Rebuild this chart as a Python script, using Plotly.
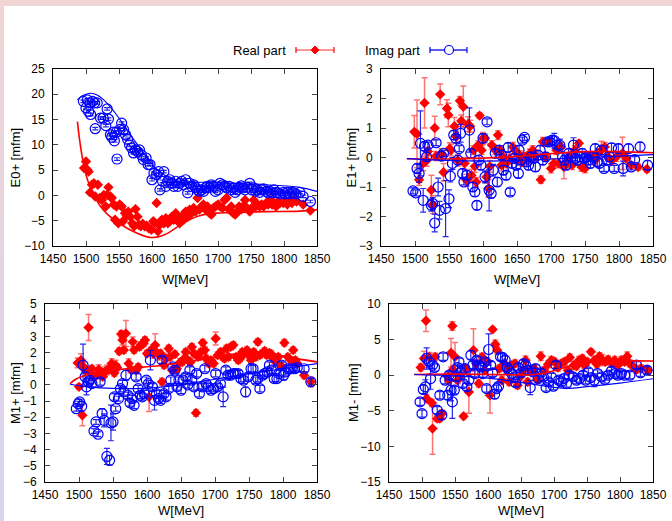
import plotly.graph_objects as go

W_PX, H_PX = 672, 521

# ---------------- E0+ ----------------
e0_re_w = [1497, 1500, 1502, 1504, 1506, 1509, 1512, 1514, 1518, 1521, 1524, 1527, 1530, 1532, 1534, 1537,
           1539, 1542, 1544, 1546, 1549, 1551, 1554, 1556, 1559, 1562, 1564, 1567, 1570, 1573, 1575, 1578,
           1580, 1583, 1586, 1589, 1592, 1595, 1599, 1602, 1605, 1607, 1609, 1612, 1615, 1618, 1621, 1624,
           1627, 1630, 1633, 1636, 1639, 1642, 1645, 1648, 1651, 1654, 1657, 1660, 1663, 1666, 1669, 1672,
           1675, 1678, 1681, 1684, 1687, 1690, 1693, 1696, 1700, 1703, 1707, 1710, 1713, 1717, 1720, 1723,
           1726, 1729, 1732, 1735, 1738, 1741, 1744, 1748, 1751, 1754, 1757, 1760, 1763, 1766, 1769, 1773,
           1776, 1779, 1782, 1785, 1788, 1791, 1794, 1799, 1802, 1805, 1809, 1812, 1815, 1819, 1829, 1840]
e0_re = [5.4, 6.7, 5.1, 4.7, 0.6, 2.1, 2.4, -0.2, 2.1, -0.5, -0.9, 0.1, -2.2, 0.1, 1.6, -0.2,
         -0.5, -1.8, -4.8, -2.2, -5.5, -1.8, -2.2, -5.1, -3.5, -4.0, -3.2, -4.2, -5.5, -6.1, -2.7, -4.2,
         -5.8, -6.1, -5.6, -6.1, -6.0, -6.5, -6.8, -5.1, -5.5, -1.5, -7.1, -5.8, -4.8, -5.5, -4.5, -5.5,
         -5.1, -4.2, -4.8, -3.5, -4.2, -5.5, -4.2, -4.8, -3.2, -4.2, -2.8, -3.5, -2.5, -3.2, -0.5, -2.8,
         -2.2, -1.8, -2.8, -2.2, -3.5, -3.8, -2.5, -2.2, -1.8, -2.2, -2.5, -0.9, -0.5, -2.8, -2.2, -3.5,
         -3.8, -3.2, -2.2, -2.8, -2.2, -0.9, -2.5, -3.2, -2.5, -0.9, -2.2, -1.8, -2.2, -1.8, -2.2, -1.5,
         -1.8, -0.9, -1.8, -1.5, -2.2, -1.2, -1.5, -1.5, -1.2, -1.8, -1.2, -1.5, -0.9, -1.2, -1.8, -3.0]
e0_im_w = [1496, 1502, 1500, 1506, 1504, 1507, 1510, 1513, 1517, 1514, 1522, 1526, 1530, 1532, 1534, 1537,
           1539, 1542, 1543, 1546, 1547, 1551, 1554, 1557, 1560, 1563, 1566, 1569, 1572, 1575, 1578, 1581,
           1584, 1587, 1591, 1594, 1597, 1600, 1603, 1607, 1610, 1612, 1616, 1618, 1621, 1624, 1627, 1630,
           1633, 1636, 1639, 1642, 1645, 1648, 1651, 1654, 1657, 1660, 1663, 1666, 1669, 1672, 1675, 1678,
           1681, 1684, 1687, 1690, 1693, 1696, 1700, 1703, 1707, 1710, 1713, 1717, 1720, 1723, 1726, 1729,
           1732, 1735, 1738, 1741, 1744, 1748, 1751, 1754, 1757, 1760, 1763, 1766, 1769, 1773, 1776, 1779,
           1782, 1785, 1788, 1791, 1794, 1799, 1802, 1805, 1809, 1812, 1815, 1818, 1824, 1829, 1840]
e0_im = [18.6, 18.9, 17.3, 18.3, 16.6, 16.0, 18.6, 18.3, 18.3, 13.2, 15.3, 15.3, 13.8, 17.1, 15.1, 12.0,
         11.5, 12.5, 10.8, 12.5, 7.2, 13.0, 14.3, 13.0, 12.0, 11.1, 10.0, 9.4, 8.4, 9.0, 8.7, 9.0,
         8.0, 7.1, 7.4, 6.1, 6.1, 3.1, 4.4, 4.1, 4.7, 1.1, 2.8, 4.7, 1.8, 2.8, 3.1, 2.4,
         1.8, 2.8, 1.8, 2.4, 2.8, 2.1, 3.1, 0.5, 2.4, 1.8, 2.1, 1.6, 1.1, 0.8, 1.1, 0.8,
         1.5, 1.8, 1.6, 2.1, 1.8, 0.8, 1.1, 2.4, 2.1, 1.8, 1.5, 1.8, 1.1, 1.5, 0.6, 1.1,
         1.6, 1.9, 1.5, 1.1, 1.6, 2.4, 1.1, 1.5, 0.8, 1.1, 0.6, 1.1, 1.3, 0.8, 0.5, 0.8,
         0.5, 1.1, 0.6, 0.5, 0.3, 0.6, 0.3, 0.6, 0.3, 0.6, 0.5, 0.3, 0.6, -0.2, -1.2]
e0_fit_re_w = [1487, 1490, 1495, 1500, 1505, 1513, 1521, 1533, 1546, 1571, 1596, 1609, 1622, 1634, 1647,
               1660, 1672, 1697, 1723, 1773, 1824, 1850]
e0_fit_re = [14.6, 11.3, 7.1, 4.1, 2.1, -0.2, -2.0, -3.8, -5.1, -7.1, -8.3, -8.2, -7.6, -6.6, -5.5,
             -4.6, -4.0, -3.5, -3.4, -3.2, -3.1, -2.8]
e0_fit_im_w = [1487, 1493, 1500, 1508, 1516, 1526, 1536, 1546, 1559, 1571, 1584, 1597, 1609, 1622, 1632,
               1642, 1660, 1697, 1723, 1773, 1824, 1850]
e0_fit_im = [18.9, 19.6, 20.0, 20.2, 19.9, 19.0, 17.6, 16.0, 13.6, 11.3, 9.0, 6.7, 4.9, 3.8, 3.1,
             2.7, 2.6, 2.6, 2.4, 2.1, 1.6, 0.8]

# ---------------- E1+ ----------------
e1_re_w = [1499, 1503, 1506, 1514, 1512, 1517, 1519, 1524, 1526, 1529, 1531, 1537, 1539, 1542, 1547, 1549,
           1551, 1553, 1558, 1561, 1563, 1566, 1568, 1571, 1573, 1576, 1578, 1581, 1583, 1586, 1588, 1590,
           1593, 1595, 1598, 1600, 1603, 1605, 1608, 1610, 1613, 1618, 1622, 1625, 1627, 1630, 1634, 1639,
           1644, 1647, 1651, 1654, 1658, 1662, 1666, 1669, 1673, 1677, 1685, 1688, 1692, 1696, 1700, 1704,
           1708, 1711, 1715, 1719, 1722, 1727, 1731, 1735, 1741, 1745, 1750, 1754, 1759, 1764, 1769, 1774,
           1779, 1784, 1789, 1796, 1805, 1811, 1818, 1828, 1841]
e1_re = [0.87, 0.80, -0.75, 1.85, -0.20, -0.10, 0.20, -1.10, -1.60, 1.00, 0.05, 2.14, 0.10, -0.50, 1.66, 1.44,
         0.30, 0.25, 1.06, 0.70, -0.10, 1.92, 1.24, 1.72, -0.20, -0.77, 1.13, 1.06, -0.60, 0.25, -0.30, -0.83,
         0.42, 1.42, 0.25, 0.65, 0.65, -0.66, -1.05, -0.30, 0.42, 0.25, 0.76, 0.25, -0.26, 0.00, -0.20, -0.03,
         0.36, 0.25, -0.10, 0.08, -0.15, 0.02, -0.10, 0.14, 0.25, 0.05, -0.75, 0.53, 0.02, 0.53, -0.37, -0.20,
         0.25, -0.20, 0.36, -0.32, -0.20, 0.02, -0.26, 0.25, 0.48, -0.32, -0.37, 0.02, 0.02, -0.10, 0.14, 0.25,
         0.36, 0.02, -0.10, 0.02, 0.14, -0.03, -0.26, -0.32, -0.40]
e1_re_err = [0.55, 1.15, 0.20, 0.85, 0.25, 0.20, 0.15, 0.50, 0.30, 0.40, 0.15, 0.35, 0.20, 0.30, 0.30, 0.40,
             0.20, 0.20, 0.30, 0.20, 0.20, 0.15, 0.20, 0.70, 0.20, 0.20, 0.25, 0.20, 0.20, 0.15, 0.20, 0.15,
             0.15, 0.10, 0.15, 0.20, 0.15, 0.20, 0.30, 0.20, 0.15, 0.15, 0.15, 0.15, 0.20, 0.15, 0.15, 0.15,
             0.15, 0.15, 0.15, 0.15, 0.15, 0.15, 0.15, 0.15, 0.15, 0.15, 0.12, 0.15, 0.15, 0.10, 0.15, 0.15,
             0.15, 0.15, 0.15, 0.40, 0.15, 0.15, 0.15, 0.15, 0.10, 0.15, 0.15, 0.15, 0.15, 0.15, 0.15, 0.30,
             0.15, 0.15, 0.15, 0.15, 0.55, 0.15, 0.10, 0.10, 0.10]
e1_im_w = [1497, 1501, 1503, 1506, 1508, 1512, 1514, 1517, 1519, 1524, 1526, 1529, 1531, 1534, 1536, 1539,
           1542, 1545, 1550, 1552, 1555, 1557, 1560, 1563, 1565, 1567, 1570, 1572, 1576, 1580, 1582, 1585,
           1588, 1591, 1594, 1597, 1600, 1603, 1606, 1609, 1612, 1615, 1618, 1621, 1624, 1627, 1630, 1634,
           1637, 1640, 1643, 1646, 1649, 1652, 1653, 1656, 1658, 1661, 1664, 1667, 1671, 1674, 1677, 1681,
           1684, 1688, 1692, 1695, 1698, 1702, 1705, 1709, 1713, 1717, 1720, 1722, 1726, 1730, 1733, 1736,
           1739, 1742, 1746, 1749, 1752, 1755, 1758, 1762, 1765, 1768, 1771, 1774, 1778, 1782, 1786, 1789,
           1793, 1799, 1806, 1814, 1818, 1823, 1831, 1842]
e1_im = [-1.13, -1.20, -0.37, -0.54, 0.48, -1.45, 0.38, 0.02, 0.42, -1.62, -1.56, -2.22, 0.50, -1.00, -1.79, 0.05,
         0.14, -1.73, -1.40, -0.63, -0.20, 0.76, 0.65, -0.09, 0.30, 0.82, -0.54, -0.83, -0.60, 0.93, 0.14, -1.00,
         -1.17, -1.62, -0.09, -0.26, 0.65, -0.66, 1.21, -1.11, -1.22, -0.43, 0.14, -0.83, 0.25, 0.08, -0.43, -0.60,
         0.34, -1.17, -0.20, -0.03, -0.26, -0.54, 0.25, -0.09, 0.59, 0.68, -0.15, -0.26, 0.02, -0.03, -0.32, 0.08,
         0.25, -0.09, 0.02, 0.53, 0.53, 0.59, 0.57, 0.42, 0.42, 0.02, -0.09, -0.26, 0.14, 0.02, 0.42, -0.03,
         -0.09, 0.02, 0.14, -0.03, 0.02, -0.09, -0.20, 0.02, 0.30, -0.15, -0.20, 0.25, -0.37, -0.09, 0.02, 0.33,
         -0.37, 0.30, -0.37, 0.30, -0.32, -0.07, 0.36, -0.26]
e1_im_err = [0.10, 0.10, 0.15, 0.30, 1.10, 0.40, 0.15, 0.15, 0.10, 0.20, 0.20, 0.30, 0.10, 0.30, 0.30, 0.15,
             0.10, 0.95, 0.30, 0.20, 0.20, 0.15, 0.15, 0.15, 0.10, 0.30, 0.15, 0.10, 0.15, 0.75, 0.15, 0.15,
             0.15, 0.15, 0.15, 0.15, 0.15, 0.20, 0.10, 0.70, 0.15, 0.20, 0.15, 0.15, 0.15, 0.15, 0.15, 0.15,
             0.15, 0.12, 0.15, 0.15, 0.15, 0.15, 0.15, 0.15, 0.10, 0.10, 0.15, 0.15, 0.15, 0.15, 0.15, 0.15,
             0.15, 0.15, 0.15, 0.10, 0.10, 0.15, 0.25, 0.15, 0.20, 0.15, 0.15, 0.15, 0.15, 0.15, 0.25, 0.15,
             0.15, 0.15, 0.15, 0.15, 0.15, 0.15, 0.15, 0.15, 0.15, 0.15, 0.15, 0.15, 0.10, 0.15, 0.15, 0.15,
             0.10, 0.15, 0.25, 0.15, 0.10, 0.10, 0.15, 0.15]
e1_fit_w = [1488, 1550, 1600, 1650, 1700, 1750, 1800, 1850]
e1_fit_re = [-0.04, -0.05, -0.02, 0.04, 0.13, 0.20, 0.20, 0.16]
e1_fit_im = [-0.04, -0.10, -0.12, -0.10, -0.05, 0.00, 0.05, 0.10]

# ---------------- M1+ ----------------
m1p_re_w = [1498, 1500, 1503, 1505, 1507, 1510, 1514, 1516, 1519, 1522, 1526, 1529, 1532, 1535, 1538, 1541,
            1545, 1548, 1552, 1554, 1556, 1559, 1562, 1564, 1566, 1569, 1573, 1576, 1579, 1581, 1584, 1587,
            1589, 1591, 1595, 1597, 1600, 1603, 1606, 1609, 1612, 1615, 1618, 1620, 1622, 1625, 1628, 1632,
            1634, 1637, 1641, 1644, 1649, 1652, 1655, 1657, 1660, 1664, 1666, 1669, 1672, 1675, 1679, 1682,
            1685, 1687, 1691, 1694, 1698, 1701, 1704, 1708, 1711, 1714, 1717, 1720, 1723, 1727, 1731, 1734,
            1737, 1740, 1743, 1747, 1750, 1753, 1757, 1760, 1763, 1766, 1770, 1773, 1776, 1780, 1783, 1786,
            1789, 1793, 1798, 1802, 1807, 1811, 1815, 1818, 1821, 1831, 1841]
m1p_re = [1.36, -0.12, 1.53, -1.88, 1.11, 0.91, 3.55, 0.91, 1.00, 0.50, 0.60, 0.95, 0.80, 0.50, 0.80, 0.91,
          1.00, 1.32, 0.74, 1.22, 1.07, 2.08, 3.14, 2.77, 2.15, 3.18, 1.32, 0.95, 2.66, 2.15, 0.91, 1.11,
          2.35, 2.46, 2.56, 2.77, 1.94, -0.74, 2.15, 1.94, 2.46, 1.98, 1.84, 1.94, 0.19, 1.22, 1.63, 2.25,
          1.73, 0.91, 1.90, 1.00, 1.42, 1.42, 1.63, 2.04, 1.53, 1.42, 2.35, 1.94, -1.73, 1.73, 2.04, 2.60,
          2.15, 1.63, 1.32, 1.53, 1.32, 2.87, 1.84, 2.04, 1.73, 1.63, 2.25, 1.73, 2.35, 2.46, 1.73, 1.53,
          1.63, 2.04, 1.94, 2.15, 1.84, 1.53, 2.04, 1.73, 2.66, 1.84, 1.98, 2.10, 1.84, 1.98, 1.90, 1.63,
          1.42, 1.73, 1.15, 2.60, 1.73, 1.53, 2.15, 1.53, 1.32, 0.60, 0.19]
m1p_re_err = [0.30, 0.15, 0.40, 0.65, 0.30, 0.20, 0.80, 0.20, 0.20, 0.20, 0.20, 0.30, 0.20, 0.20, 0.30, 0.30,
              0.30, 0.30, 0.20, 0.30, 0.20, 0.20, 0.20, 0.30, 0.20, 0.80, 0.30, 0.20, 0.30, 0.20, 0.20, 0.20,
              0.20, 0.20, 0.20, 0.20, 0.20, 0.90, 0.20, 0.30, 0.70, 0.20, 0.30, 0.20, 0.20, 0.20, 0.20, 0.20,
              0.20, 0.20, 0.20, 0.20, 0.20, 0.20, 0.20, 0.20, 0.20, 0.20, 0.20, 0.20, 0.20, 0.20, 0.20, 0.20,
              0.20, 0.20, 0.20, 0.20, 0.20, 0.40, 0.20, 0.20, 0.20, 0.20, 0.20, 0.20, 0.20, 0.20, 0.20, 0.20,
              0.20, 0.20, 0.20, 0.20, 0.20, 0.20, 0.20, 0.20, 0.20, 0.20, 0.20, 0.20, 0.20, 0.20, 0.20, 0.20,
              0.20, 0.20, 0.20, 0.20, 0.20, 0.20, 0.20, 0.20, 0.20, 0.20, 0.30]
m1p_im_w = [1496, 1499, 1501, 1504, 1506, 1509, 1511, 1514, 1516, 1519, 1522, 1525, 1528, 1531, 1534, 1537,
            1541, 1545, 1547, 1550, 1552, 1554, 1558, 1561, 1564, 1566, 1569, 1572, 1575, 1578, 1581, 1584,
            1587, 1590, 1593, 1596, 1599, 1602, 1605, 1608, 1611, 1614, 1617, 1620, 1622, 1625, 1628, 1632,
            1635, 1638, 1641, 1644, 1647, 1650, 1653, 1657, 1660, 1663, 1666, 1669, 1673, 1677, 1681, 1685,
            1687, 1690, 1694, 1698, 1701, 1704, 1708, 1712, 1716, 1719, 1723, 1727, 1730, 1734, 1738, 1742,
            1745, 1749, 1753, 1756, 1760, 1763, 1766, 1770, 1773, 1777, 1780, 1783, 1787, 1791, 1794, 1798,
            1801, 1804, 1808, 1812, 1817, 1821, 1831, 1841]
m1p_im = [-1.47, -1.16, -1.05, -1.32, 1.22, 0.50, -0.12, 0.19, 0.29, 0.08, -2.85, -2.29, -3.05, 0.19, -1.77, -2.19,
          -4.42, -4.66, -2.35, -2.29, -0.74, -1.47, -0.85, -0.23, 0.08, -0.43, 0.60, -0.64, -1.11, -0.85, -1.26, 0.50,
          -0.23, -0.64, -0.74, -0.54, 0.29, 0.08, 1.53, -0.12, -0.95, -0.54, -0.85, -0.95, 1.53, -0.54, -0.74, -0.23,
          0.29, 1.11, 0.91, -0.12, 0.29, -0.33, 0.29, 0.50, 0.00, 0.91, 0.29, -0.12, 0.70, -0.54, -0.12, 1.00,
          0.08, -0.12, -0.33, -0.23, 0.70, -0.12, 0.08, -0.74, 0.91, 0.60, 0.60, 0.70, 0.70, 0.70, 0.39, 0.29,
          -0.43, 0.50, 1.00, 1.00, 0.29, 0.39, -0.23, 0.60, 0.70, 0.80, 1.22, 0.91, 0.39, 0.39, 0.70, 1.22,
          0.60, 0.80, 1.00, 1.00, 1.00, 1.07, 1.00, 0.19]
m1p_im_err = [0.15, 0.15, 0.15, 0.30, 1.30, 0.30, 0.50, 0.20, 0.20, 0.20, 0.15, 0.15, 0.15, 0.20, 0.30, 0.40,
              0.50, 0.30, 1.10, 0.50, 0.20, 0.15, 0.15, 0.20, 0.20, 0.20, 0.30, 0.20, 0.20, 0.20, 0.20, 0.20,
              0.20, 0.20, 0.20, 0.20, 0.20, 0.20, 0.60, 0.20, 0.60, 0.20, 0.20, 0.20, 0.20, 0.20, 0.20, 0.20,
              0.20, 0.20, 0.20, 0.20, 0.20, 0.20, 0.20, 0.20, 0.20, 0.20, 0.20, 0.20, 0.20, 0.20, 0.20, 0.20,
              0.20, 0.20, 0.20, 0.20, 0.20, 0.20, 0.20, 0.60, 0.20, 0.20, 0.20, 0.20, 0.20, 0.20, 0.20, 0.20,
              0.30, 0.20, 0.30, 0.20, 0.20, 0.20, 0.20, 0.20, 0.20, 0.20, 0.20, 0.20, 0.20, 0.20, 0.20, 0.20,
              0.30, 0.20, 0.20, 0.20, 0.20, 0.20, 0.20, 0.20]
m1p_fit_re_w = [1487, 1495, 1510, 1530, 1570, 1620, 1670, 1720, 1750, 1780, 1810, 1850]
m1p_fit_re = [0.08, 0.35, 0.60, 0.80, 1.00, 1.20, 1.50, 1.85, 2.00, 1.95, 1.70, 1.42]
m1p_fit_im_w = [1487, 1510, 1550, 1600, 1650, 1700, 1750, 1800, 1850]
m1p_fit_im = [0.04, -0.10, -0.22, -0.20, 0.00, 0.35, 0.70, 1.00, 1.32]

# ---------------- M1- ----------------
m1m_re_w = [1498, 1503, 1506, 1507, 1511, 1515, 1516, 1520, 1523, 1527, 1530, 1539, 1541, 1544, 1546, 1547,
            1550, 1554, 1557, 1563, 1566, 1571, 1578, 1582, 1586, 1591, 1595, 1599, 1603, 1607, 1611, 1614,
            1617, 1621, 1625, 1628, 1632, 1636, 1641, 1645, 1649, 1653, 1657, 1660, 1665, 1670, 1675, 1680,
            1685, 1691, 1696, 1701, 1706, 1711, 1716, 1721, 1724, 1730, 1734, 1738, 1743, 1746, 1750, 1756,
            1761, 1765, 1769, 1773, 1778, 1782, 1787, 1792, 1797, 1802, 1807, 1811, 1815, 1820, 1825, 1832, 1842]
m1m_re = [1.08, 2.35, 7.65, -3.28, 2.58, -3.90, -7.50, 2.58, -6.10, -6.10, -5.40, -0.20, -0.70, 3.14, 6.90, 0.80,
          2.58, -0.70, -0.23, -5.77, 0.94, -2.35, 3.52, 1.64, -1.17, 2.58, 0.70, 1.88, -2.81, 6.43, 4.36, 3.52,
          0.94, -0.70, 1.64, 0.70, -0.94, 1.41, 1.64, -1.41, -0.23, 0.70, 2.11, -0.94, 0.70, 0.94, -0.61, 2.67,
          0.70, 1.55, 2.11, 1.88, 1.08, 1.64, 1.88, 0.70, 2.49, 1.41, 1.27, 2.11, 2.35, 1.41, 1.88, 3.28,
          2.11, 1.55, 2.67, 2.11, 1.88, 2.20, 1.74, 2.11, 1.41, 2.11, 1.88, 2.67, 1.64, 1.17, 0.80, 0.94, 0.70]
m1m_re_err = [0.5, 1.0, 1.5, 0.5, 0.6, 0.5, 3.6, 0.5, 0.4, 0.4, 0.5, 0.5, 0.5, 2.0, 0.6, 0.5,
              2.0, 0.5, 0.5, 0.3, 0.5, 3.0, 3.0, 0.5, 0.5, 0.5, 0.5, 0.5, 2.5, 0.3, 0.6, 0.5,
              0.5, 0.5, 0.5, 0.5, 0.5, 0.5, 0.5, 0.5, 0.5, 0.5, 0.6, 0.5, 0.5, 0.5, 0.5, 0.6,
              0.5, 0.5, 0.5, 0.5, 0.5, 0.5, 0.5, 0.5, 0.5, 0.5, 0.5, 0.5, 0.5, 0.5, 0.5, 0.4,
              0.5, 0.5, 0.5, 0.8, 0.5, 0.5, 0.5, 0.5, 0.5, 0.5, 0.5, 0.6, 0.5, 0.5, 0.5, 0.5, 0.5]
m1m_im_w = [1497, 1500, 1502, 1505, 1507, 1511, 1513, 1516, 1519, 1523, 1527, 1530, 1532, 1535, 1539, 1541,
            1544, 1546, 1549, 1551, 1554, 1556, 1559, 1562, 1565, 1568, 1571, 1574, 1577, 1580, 1583, 1586,
            1589, 1592, 1595, 1598, 1601, 1604, 1607, 1610, 1613, 1616, 1619, 1622, 1626, 1629, 1632, 1636,
            1639, 1642, 1646, 1650, 1654, 1657, 1660, 1664, 1668, 1672, 1676, 1680, 1684, 1688, 1692, 1696,
            1699, 1703, 1707, 1711, 1715, 1719, 1723, 1729, 1734, 1739, 1744, 1748, 1752, 1756, 1761, 1766,
            1772, 1777, 1782, 1787, 1792, 1797, 1802, 1807, 1815, 1825, 1831, 1841]
m1m_im = [-3.75, -5.40, -2.00, -1.64, 2.35, 1.88, -0.47, 1.41, 1.08, -4.90, -2.81, -5.60, 2.58, -0.70, -2.81, 0.00,
          -2.11, -3.75, -2.11, -0.23, 1.08, 1.88, 0.47, -1.17, 0.94, -1.64, -0.70, 2.81, 1.41, 0.23, 2.11, 1.41,
          1.17, 0.23, 1.88, -1.88, 3.61, 1.41, 0.33, -2.67, -1.88, -1.55, 2.58, 2.49, 2.11, 1.08, 0.70, 0.23,
          -0.33, -1.08, 1.08, 0.33, 1.64, 1.41, 0.70, -1.74, 0.47, 0.94, -0.47, 0.33, -0.23, -1.74, -0.94, -0.23,
          -1.55, 1.41, -0.70, -0.94, -0.47, -1.17, 0.00, -0.23, -0.70, -0.47, 0.00, -0.70, 0.47, -0.33, -0.70, 0.23,
          -0.23, -0.61, 0.00, 0.61, 0.23, 0.00, 0.23, 0.00, 0.00, 1.41, 0.33, 0.70]
m1m_im_err = [0.5, 0.5, 0.6, 1.0, 1.5, 0.5, 1.5, 0.5, 0.5, 0.5, 0.5, 0.6, 0.5, 0.5, 0.6, 0.5,
              1.5, 2.3, 0.5, 0.5, 0.5, 0.5, 0.5, 0.5, 0.5, 0.5, 0.5, 0.6, 0.5, 0.5, 0.5, 0.5,
              0.5, 0.5, 0.5, 0.5, 2.2, 0.5, 0.5, 0.6, 0.5, 0.5, 0.5, 0.5, 0.6, 0.5, 0.5, 0.5,
              0.5, 0.5, 0.5, 0.5, 0.5, 0.5, 0.5, 1.0, 0.5, 0.5, 0.5, 0.5, 0.5, 0.5, 0.5, 0.5,
              0.5, 0.5, 0.5, 0.5, 0.5, 0.5, 0.5, 0.5, 0.5, 0.5, 0.5, 0.5, 0.5, 0.5, 0.9, 0.5,
              0.5, 0.5, 0.5, 0.5, 0.5, 0.5, 0.5, 0.5, 0.5, 0.5, 0.5, 0.5]
m1m_fit_re_w = [1488, 1550, 1600, 1650, 1670, 1690, 1710, 1730, 1760, 1800, 1850]
m1m_fit_re = [0.10, 0.15, 0.10, 0.05, 0.10, 0.40, 0.90, 1.40, 1.85, 2.00, 2.00]
m1m_fit_im_w = [1488, 1550, 1600, 1650, 1700, 1720, 1750, 1800, 1850]
m1m_fit_im = [0.10, -0.10, -0.40, -1.00, -1.70, -1.85, -1.60, -1.10, -0.50]

# panel frames in pixels (left, right, top, bottom) and y axis setup
panels = [
    dict(title="E0+ [mfm]", frame=(53, 317, 69, 246), yrange=[-10, 25], dtick=5, ytitle_x=15, xtitle_y=279),
    dict(title="E1+ [mfm]", frame=(381, 653, 69, 246), yrange=[-3, 3], dtick=1, ytitle_x=351, xtitle_y=279),
    dict(title="M1+ [mfm]", frame=(45, 317, 304, 482), yrange=[-6, 5], dtick=1, ytitle_x=15, xtitle_y=510),
    dict(title="M1- [mfm]", frame=(389, 653, 304, 482), yrange=[-15, 10], dtick=5, ytitle_x=353, xtitle_y=510),
]

RED = "#ff0000"
BLUE = "#0000ff"
RED_ERR = "rgba(255,40,40,0.65)"
BLUE_ERR = "rgba(0,0,230,0.85)"
FONT = "Liberation Sans, Arial, sans-serif"


def px(x):
    return x / W_PX


def py(y):
    return 1 - y / H_PX


def err_spec(err, color, thick):
    if isinstance(err, list):
        return dict(type="data", array=err, color=color, thickness=thick, width=3)
    return dict(type="constant", value=err, color=color, thickness=thick, width=3)


def label(text, x, y, **kw):
    d = dict(text=text, x=px(x), y=py(y), xref="paper", yref="paper", xanchor="center", yanchor="middle",
             showarrow=False, font=dict(family=FONT, size=13, color="black"))
    d.update(kw)
    return d


fig = go.Figure()

series = [
    (e0_re_w, e0_re, 0.25, e0_im_w, e0_im, 0.25, e0_fit_re_w, e0_fit_re, e0_fit_im_w, e0_fit_im),
    (e1_re_w, e1_re, e1_re_err, e1_im_w, e1_im, e1_im_err, e1_fit_w, e1_fit_re, e1_fit_w, e1_fit_im),
    (m1p_re_w, m1p_re, m1p_re_err, m1p_im_w, m1p_im, m1p_im_err, m1p_fit_re_w, m1p_fit_re, m1p_fit_im_w, m1p_fit_im),
    (m1m_re_w, m1m_re, m1m_re_err, m1m_im_w, m1m_im, m1m_im_err, m1m_fit_re_w, m1m_fit_re, m1m_fit_im_w, m1m_fit_im),
]

annotations = []
for i, (p, s) in enumerate(zip(panels, series)):
    n = "" if i == 0 else str(i + 1)
    xa, ya = "x" + n, "y" + n
    rw, rv, rerr, iw, iv, ierr, frw, frv, fiw, fiv = s

    fig.add_trace(go.Scatter(x=rw, y=rv, mode="markers", xaxis=xa, yaxis=ya,
                             marker=dict(symbol="diamond", size=8, color=RED),
                             error_y=err_spec(rerr, RED_ERR, 1.5)))
    fig.add_trace(go.Scatter(x=iw, y=iv, mode="markers", xaxis=xa, yaxis=ya,
                             marker=dict(symbol="circle-open", size=10, color=BLUE, line=dict(width=1.2)),
                             error_y=err_spec(ierr, BLUE_ERR, 1.2)))
    fig.add_trace(go.Scatter(x=frw, y=frv, mode="lines", xaxis=xa, yaxis=ya, line_shape="spline",
                             line=dict(color=RED, width=1.6)))
    fig.add_trace(go.Scatter(x=fiw, y=fiv, mode="lines", xaxis=xa, yaxis=ya, line_shape="spline",
                             line=dict(color=BLUE, width=1.2)))

    l, r, t, b = p["frame"]
    axis_common = dict(showline=True, linecolor="black", linewidth=1, mirror="allticks",
                       ticks="inside", ticklen=5, tickcolor="#444", showgrid=False, zeroline=False,
                       automargin=False, tickfont=dict(family=FONT, size=12, color="black"))
    fig.layout["xaxis" + n] = dict(domain=[px(l), px(r)], anchor=ya, range=[1450, 1850], dtick=50,
                                   tick0=1450, ticklabelstandoff=2, **axis_common)
    fig.layout["yaxis" + n] = dict(domain=[py(b), py(t)], anchor=xa, range=p["yrange"], dtick=p["dtick"],
                                   ticklabelstandoff=5, **axis_common)

    annotations.append(label("W[MeV]", (l + r) / 2, p["xtitle_y"]))
    annotations.append(label(p["title"], p["ytitle_x"], (t + b) / 2, textangle=-90))

# legend drawn by hand: text first, then the sample
legend_y = 50
annotations.append(label("Real part", 288, legend_y, xanchor="right"))
annotations.append(label("Imag part", 422, legend_y, xanchor="right"))

shapes = []
# pink/lavender border like the source page
shapes.append(dict(type="rect", xref="paper", yref="paper", x0=0, x1=1, y0=py(6), y1=1,
                   fillcolor="#f1d5d5", line_width=0, layer="below"))
steps = 24
for k in range(steps):
    f = k / (steps - 1)
    c = "rgb(%d,%d,%d)" % (241 - 24 * f, 213 - 2 * f, 213 + 27 * f)
    y0 = k * H_PX / steps
    shapes.append(dict(type="rect", xref="paper", yref="paper", x0=0, x1=px(4),
                       y0=py(y0 + H_PX / steps + 1), y1=py(y0), fillcolor=c, line_width=0, layer="below"))


def legend_key(x0, x1, color, bar_color):
    out = [dict(type="line", xref="paper", yref="paper", x0=px(x0), x1=px(x1), y0=py(legend_y), y1=py(legend_y),
                line=dict(color=bar_color, width=1.5))]
    for xx in (x0, x1):
        out.append(dict(type="line", xref="paper", yref="paper", x0=px(xx), x1=px(xx),
                        y0=py(legend_y - 3), y1=py(legend_y + 3), line=dict(color=color, width=1.2)))
    return out


shapes += legend_key(296, 334, RED, RED_ERR)
shapes += legend_key(430, 467, BLUE, BLUE_ERR)
cx, cy = 315, legend_y
shapes.append(dict(type="path", xref="paper", yref="paper",
                   path="M %f %f L %f %f L %f %f L %f %f Z" % (px(cx - 4), py(cy), px(cx), py(cy - 4),
                                                             px(cx + 4), py(cy), px(cx), py(cy + 4)),
                   fillcolor=RED, line=dict(color=RED, width=1)))
shapes.append(dict(type="circle", xref="paper", yref="paper", x0=px(444.5), x1=px(453.5),
                   y0=py(legend_y + 4.5), y1=py(legend_y - 4.5), fillcolor="white", line=dict(color=BLUE, width=1.2)))

fig.update_layout(template="none", width=W_PX, height=H_PX, margin=dict(l=0, r=0, t=0, b=0, pad=0),
                  paper_bgcolor="white", plot_bgcolor="white", showlegend=False,
                  annotations=annotations, shapes=shapes, font=dict(family=FONT))

# the page body has a default 8px margin; drop it so the figure sits at the window corner
fig.write_html("out.html", config={"displayModeBar": False},
               post_script="document.body.style.margin='0';document.body.style.padding='0';")
